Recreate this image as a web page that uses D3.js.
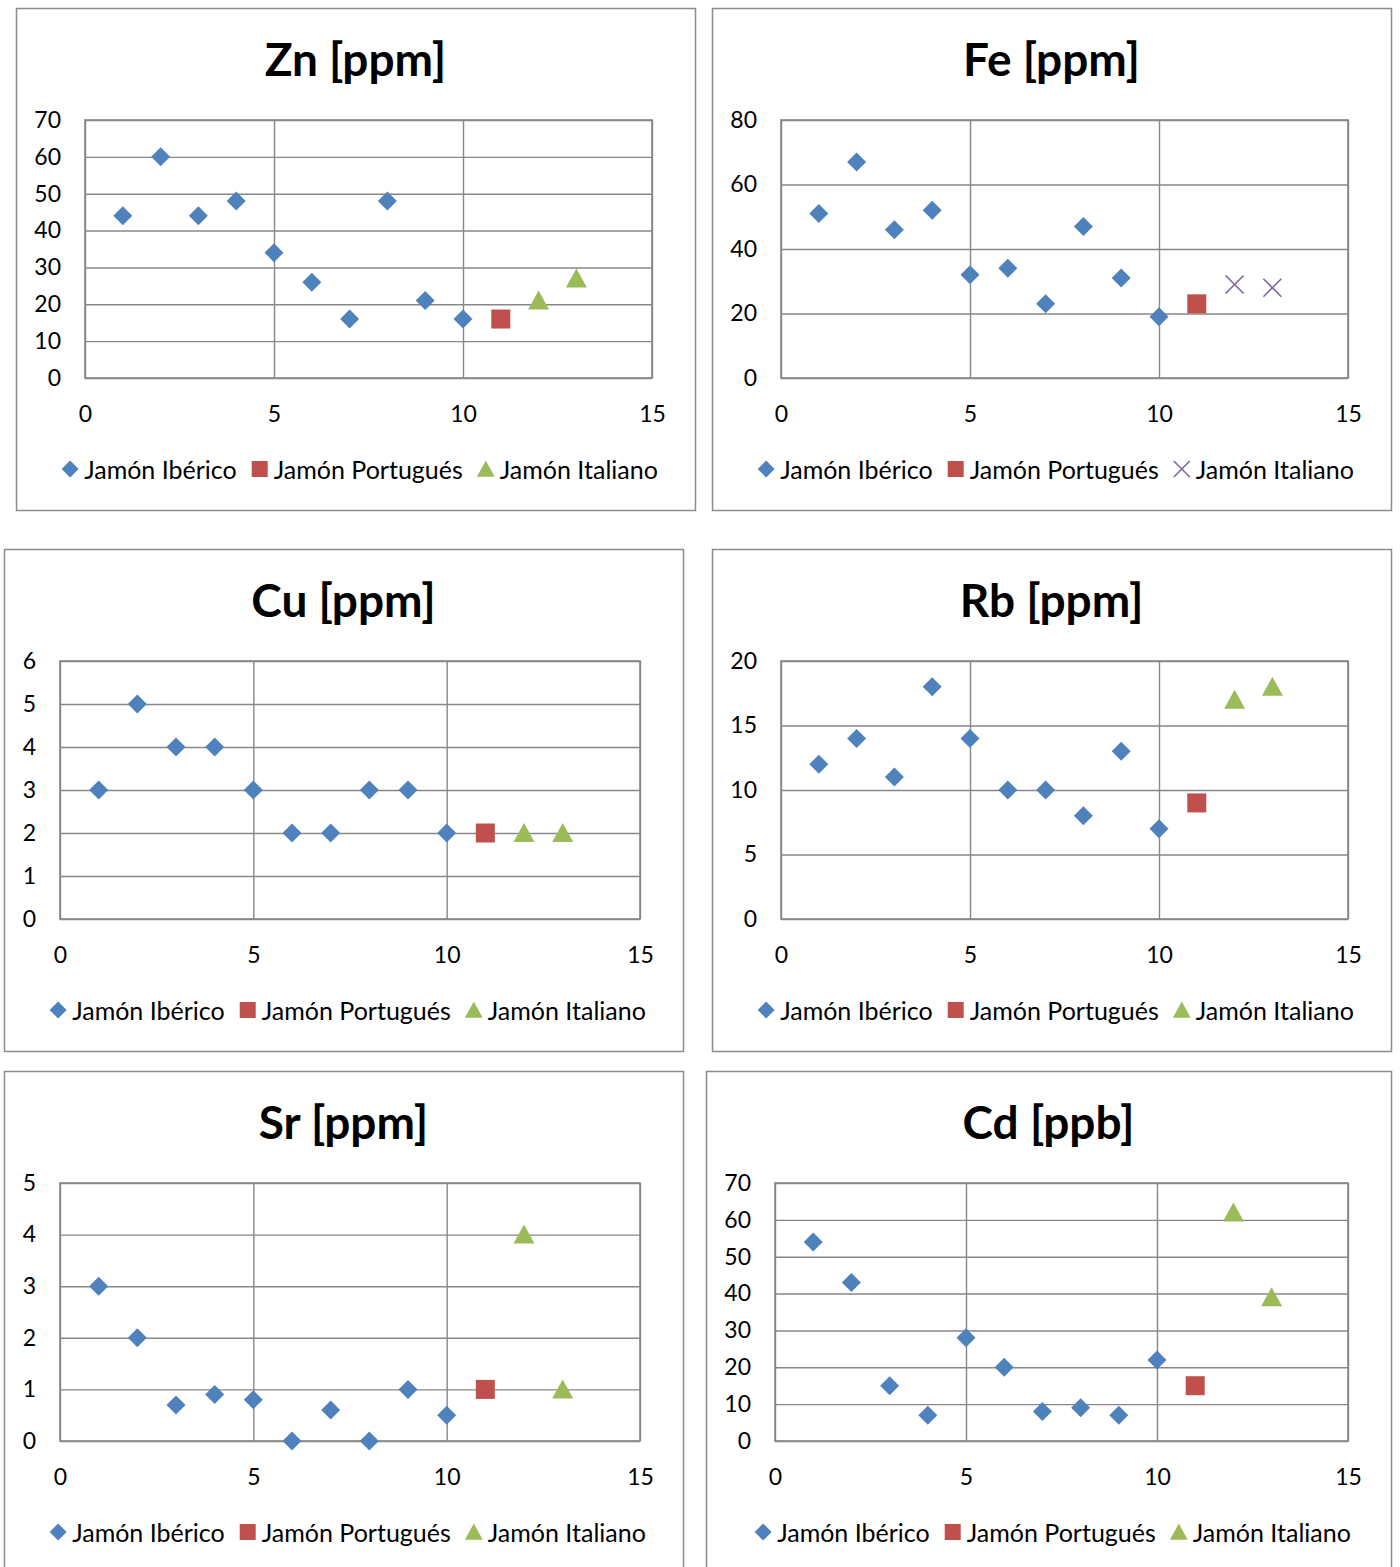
<!DOCTYPE html>
<html>
<head>
<meta charset="utf-8">
<script src="https://cdn.jsdelivr.net/npm/d3@7"></script>
<style>
  html, body { margin: 0; padding: 0; background: #ffffff; }
  svg { display: block; }
  text { font-family: Lato, "Open Sans", "DejaVu Sans", sans-serif; fill: #000; }
</style>
</head>
<body>
<svg id="chart" width="1400" height="1567"></svg>
<script>
// Sample numbers on the x axis
const xIberico = [1, 2, 3, 4, 5, 6, 7, 8, 9, 10];
const xPortugues = [11];
const xItaliano = [12, 13];

const seriesNames = ["Jamón Ibérico", "Jamón Portugués", "Jamón Italiano"];
const xTicks = [0, 5, 10, 15];

// Zn [ppm]
const znIberico = [44, 60, 44, 48, 34, 26, 16, 48, 21, 16];
const znPortugues = [16];
const znItaliano = [21, 27];
const znTicks = [0, 10, 20, 30, 40, 50, 60, 70];

// Fe [ppm]
const feIberico = [51, 67, 46, 52, 32, 34, 23, 47, 31, 19];
const fePortugues = [23];
const feItaliano = [29, 28];
const feTicks = [0, 20, 40, 60, 80];

// Cu [ppm]
const cuIberico = [3, 5, 4, 4, 3, 2, 2, 3, 3, 2];
const cuPortugues = [2];
const cuItaliano = [2, 2];
const cuTicks = [0, 1, 2, 3, 4, 5, 6];

// Rb [ppm]
const rbIberico = [12, 14, 11, 18, 14, 10, 10, 8, 13, 7];
const rbPortugues = [9];
const rbItaliano = [17, 18];
const rbTicks = [0, 5, 10, 15, 20];

// Sr [ppm]
const srIberico = [3, 2, 0.7, 0.9, 0.8, 0, 0.6, 0, 1, 0.5];
const srPortugues = [1];
const srItaliano = [4, 1];
const srTicks = [0, 1, 2, 3, 4, 5];

// Cd [ppb]
const cdIberico = [54, 43, 15, 7, 28, 20, 8, 9, 7, 22];
const cdPortugues = [15];
const cdItaliano = [62, 39];
const cdTicks = [0, 10, 20, 30, 40, 50, 60, 70];

const colors = { iberico: "#4F81BD", portugues: "#C0504D", italiano: "#9BBB59", italianoX: "#8064A2" };
const gridColor = "#878787";

const panels = [
  { title: "Zn [ppm]", frame: [16, 8, 679, 502], plot: [85, 120, 567, 258],
    ib: znIberico, pt: znPortugues, it: znItaliano, ticks: znTicks, itMarker: "triangle" },
  { title: "Fe [ppm]", frame: [712, 8, 679, 502], plot: [781, 120, 567, 258],
    ib: feIberico, pt: fePortugues, it: feItaliano, ticks: feTicks, itMarker: "x" },
  { title: "Cu [ppm]", frame: [4, 549, 679, 502], plot: [60, 661, 580, 258],
    ib: cuIberico, pt: cuPortugues, it: cuItaliano, ticks: cuTicks, itMarker: "triangle" },
  { title: "Rb [ppm]", frame: [712, 549, 679, 502], plot: [781, 661, 567, 258],
    ib: rbIberico, pt: rbPortugues, it: rbItaliano, ticks: rbTicks, itMarker: "triangle" },
  { title: "Sr [ppm]", frame: [4, 1071, 679, 520], plot: [60, 1183, 580, 258],
    ib: srIberico, pt: srPortugues, it: srItaliano, ticks: srTicks, itMarker: "triangle" },
  { title: "Cd [ppb]", frame: [706, 1071, 685, 520], plot: [775, 1183, 573, 258],
    ib: cdIberico, pt: cdPortugues, it: cdItaliano, ticks: cdTicks, itMarker: "triangle" }
];

const svg = d3.select("#chart");

// Marker shapes centred on the origin
function markerPath(kind, s) {
  const h = s / 2;
  if (kind === "diamond") return `M0,${-h}L${h},0L0,${h}L${-h},0Z`;
  if (kind === "square") return `M${-h},${-h}H${h}V${h}H${-h}Z`;
  if (kind === "triangle") return `M0,${-h}L${h * 1.05},${h * 0.9}L${-h * 1.05},${h * 0.9}Z`;
  if (kind === "x") return `M${-h},${-h}L${h},${h}M${h},${-h}L${-h},${h}`;
  return "";
}

function drawMarker(g, kind, color, size) {
  const p = g.append("path").attr("d", markerPath(kind, size));
  if (kind === "x") p.attr("fill", "none").attr("stroke", color).attr("stroke-width", 1.6);
  else p.attr("fill", color);
  return p;
}

panels.forEach(cfg => {
  const [fx, fy, fw, fh] = cfg.frame;
  const [px, py, pw, ph] = cfg.plot;
  const g = svg.append("g");

  // Outer frame
  g.append("rect")
    .attr("x", fx + 0.5).attr("y", fy + 0.5)
    .attr("width", fw).attr("height", fh)
    .attr("fill", "#ffffff").attr("stroke", "#8c8c8c").attr("stroke-width", 1.5);

  // Title
  g.append("text")
    .attr("x", fx + fw / 2).attr("y", fy + 50)
    .attr("text-anchor", "middle").attr("dominant-baseline", "central")
    .attr("font-size", 46).attr("font-weight", 700)
    .text(cfg.title);

  const yMax = d3.max(cfg.ticks);
  const x = d3.scaleLinear().domain([0, 15]).range([px, px + pw]);
  const y = d3.scaleLinear().domain([0, yMax]).range([py + ph, py]);

  // Horizontal gridlines with y tick labels
  const yAxis = d3.axisLeft(y).tickValues(cfg.ticks).tickSize(-pw).tickPadding(24).tickFormat(d3.format("d"));
  const ya = g.append("g").attr("transform", `translate(${px},0)`).call(yAxis);
  ya.select(".domain").remove();
  ya.selectAll(".tick line").attr("stroke", gridColor).attr("stroke-width", 1.4);
  ya.selectAll(".tick text").attr("font-size", 23).attr("font-family", "Lato, 'Open Sans', sans-serif").attr("fill", "#000");

  // Vertical gridlines with x tick labels
  const xAxis = d3.axisBottom(x).tickValues(xTicks).tickSize(-ph).tickPadding(28).tickFormat(d3.format("d"));
  const xa = g.append("g").attr("transform", `translate(0,${py + ph})`).call(xAxis);
  xa.select(".domain").remove();
  xa.selectAll(".tick line").attr("stroke", gridColor).attr("stroke-width", 1.4);
  xa.selectAll(".tick text").attr("font-size", 23).attr("font-family", "Lato, 'Open Sans', sans-serif").attr("fill", "#000");

  // Plot border
  g.append("rect")
    .attr("x", px).attr("y", py).attr("width", pw).attr("height", ph)
    .attr("fill", "none").attr("stroke", gridColor).attr("stroke-width", 1.6);

  // Series points
  const series = [
    { xs: xIberico, ys: cfg.ib, kind: "diamond", color: colors.iberico, size: 19 },
    { xs: xPortugues, ys: cfg.pt, kind: "square", color: colors.portugues, size: 19 },
    { xs: xItaliano, ys: cfg.it, kind: cfg.itMarker,
      color: cfg.itMarker === "x" ? colors.italianoX : colors.italiano,
      size: cfg.itMarker === "x" ? 18 : 20 }
  ];
  series.forEach(s => {
    s.xs.forEach((xv, i) => {
      const m = g.append("g").attr("transform", `translate(${x(xv)},${y(s.ys[i])})`);
      drawMarker(m, s.kind, s.color, s.size);
    });
  });

  // Legend, centred under the plot
  const leg = g.append("g");
  const legendKinds = [
    { kind: "diamond", color: colors.iberico, size: 17 },
    { kind: "square", color: colors.portugues, size: 16 },
    { kind: cfg.itMarker, color: cfg.itMarker === "x" ? colors.italianoX : colors.italiano, size: cfg.itMarker === "x" ? 16 : 17 }
  ];
  let cursor = 0;
  seriesNames.forEach((name, i) => {
    const item = leg.append("g").attr("transform", `translate(${cursor},0)`);
    drawMarker(item, legendKinds[i].kind, legendKinds[i].color, legendKinds[i].size);
    const t = item.append("text")
      .attr("x", 14).attr("y", 0)
      .attr("dominant-baseline", "central")
      .attr("font-size", 25)
      .text(name);
    const w = t.node().getComputedTextLength();
    cursor += 14 + w + 23;
  });
  // span from the first marker's left edge to the end of the last label
  const span = cursor - 23 + 9;
  const left = fx + fw / 2 + 4 - span / 2;
  leg.attr("transform", `translate(${left + 9},${fy + 461})`);
});
</script>
</body>
</html>
